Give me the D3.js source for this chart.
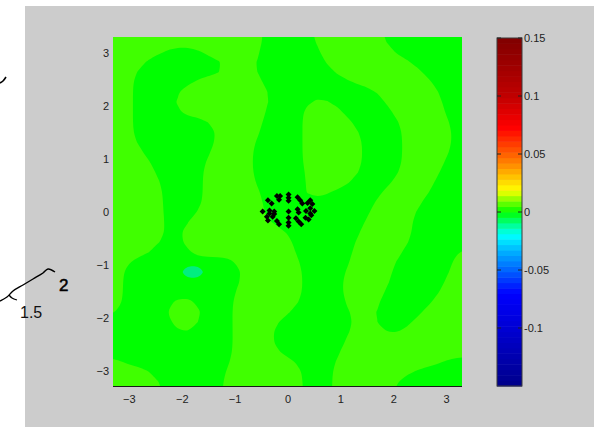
<!DOCTYPE html>
<html><head><meta charset="utf-8">
<script src="https://cdn.jsdelivr.net/npm/d3@7"></script>
<style>html,body{margin:0;padding:0;background:#fff;overflow:hidden}svg{display:block}</style>
</head><body>
<script>
// ---------- data ----------
const xTicks = [-3, -2, -1, 0, 1, 2, 3];
const yTicks = [-3, -2, -1, 0, 1, 2, 3];
const xDomain = [-3.3, 3.3];
const yDomain = [-3.3, 3.3];
const cbTicks = [-0.1, -0.05, 0, 0.05, 0.1, 0.15];
const cbTickLabels = ["-0.1", "-0.05", "0", "0.05", "0.1", "0.15"];
const cbDomain = [-0.15, 0.15];
const cbStopValues = [-0.15, -0.07, -0.05, -0.033, -0.02, -0.013, 0, 0.01, 0.019, 0.028, 0.04, 0.05, 0.073, 0.1, 0.15];
const cbStopColors = ["#00008a", "#0000ff", "#0064ff", "#00b4ff", "#00ffff", "#00ffb0", "#00ff00", "#80ff00", "#ffff00", "#ffd000", "#ff9000", "#ff6000", "#ff0000", "#c00000", "#800000"];
const cbBands = 64;

// field levels ('#' = 0 band, '.' = just above 0, 'o' = just below 0)
const fieldRows = [
"...............#####.......########",
".....####......######.......#######",
"...#########..#######.........#####",
"..##########..########.........####",
"..######.......#########........###",
"..####..........###########......##",
"..####..........###...#####......##",
"..####.........####....#####.....##",
"..########.....####.....#####.....#",
"..#########....####......####.....#",
"..########....#####......####.....#",
"...#######....#####......####.....#",
"....#####.....#####......####....##",
"....#####.....#####......####....##",
".....####.....######....####....###",
".....####......####...#####.....###",
".....####......##...######.....####",
".....####......###########....#####",
".....##........##########.....#####",
".....##...........#######.....#####",
".....##...........######......#####",
"....###...........######.....#####.",
".############......#####....######.",
".######oo####......####.....######.",
".############......####.....#####..",
".###########.......####....######..",
".####....###.......####....#####...",
".####....###......######..#####....",
"######...###....########..####.....",
"######..####....########...##......",
"############....#######............",
"############....#######............",
".###########.......###...........##",
"....#######........###........#####",
".....######........###......#######"
];
const levelCodes = {"#": 0, ".": 1, "o": -1};
const levelColors = {dark: "#00ff00", light: "#40ff00", low: "#00ee80"};

// sensor markers
const markerX = [-0.37,-0.30,-0.20,-0.14,-0.16,0.02,0.02,0.02,0.19,0.24,0.28,0.38,0.43,0.47,-0.47,-0.34,-0.34,-0.25,-0.25,0.02,0.19,0.21,0.35,0.43,0.43,0.51,-0.39,-0.37,-0.28,-0.20,-0.16,0.02,0.02,0.02,0.16,0.21,0.26,0.34,0.40,0.45];
const markerY = [0.22,0.16,0.30,0.30,0.23,0.33,0.27,0.21,0.28,0.22,0.16,0.17,0.22,0.15,0.01,0.03,-0.03,0.01,-0.04,0.01,0.05,-0.01,0.02,0.07,-0.03,0.02,-0.09,-0.16,-0.09,-0.17,-0.23,-0.11,-0.20,-0.26,-0.12,-0.18,-0.23,-0.11,-0.14,-0.06];

// ---------- layout ----------
const W = 594, H = 427;
const plot = {left: 113, top: 37, right: 462, bottom: 387};
const cb = {left: 497, right: 522, top: 38, bottom: 386};
const FONT = "'Liberation Sans', Arial, sans-serif";

const svg = d3.select("body").append("svg").attr("width", W).attr("height", H);
svg.append("rect").attr("x", 0).attr("y", 0).attr("width", W).attr("height", H).attr("fill", "#ffffff");
svg.append("rect").attr("x", 25).attr("y", 6).attr("width", W - 25).attr("height", H - 6).attr("fill", "#cccccc");

// stray annotation strokes at left edge
const strayLine = d3.line().curve(d3.curveCatmullRom);
svg.append("path").attr("d", strayLine([[0,301],[7,297],[13,291],[23,285],[33,279],[43,273],[48,269],[55,272]]))
  .attr("fill", "none").attr("stroke", "#000").attr("stroke-width", 1.4);
svg.append("path").attr("d", strayLine([[9,295],[12,298],[17,300]]))
  .attr("fill", "none").attr("stroke", "#000").attr("stroke-width", 1.3);
svg.append("path").attr("d", strayLine([[0,83],[3,81],[6,77]]))
  .attr("fill", "none").attr("stroke", "#000").attr("stroke-width", 1.6);
svg.append("text").attr("x", 59).attr("y", 291).text("2")
  .attr("font-family", FONT).attr("font-size", 17).attr("fill", "#000")
  .attr("stroke", "#000").attr("stroke-width", 0.5);
svg.append("text").attr("x", 20).attr("y", 318).text("1.5")
  .attr("font-family", FONT).attr("font-size", 16).attr("fill", "#111");

// ---------- scales ----------
const x = d3.scaleLinear().domain(xDomain).range([plot.left, plot.right]);
const y = d3.scaleLinear().domain(yDomain).range([plot.bottom, plot.top]);

// ---------- field ----------
const N = fieldRows.length, M = fieldRows[0].length;
const vals = fieldRows.map(r => Array.from(r).map(ch => levelCodes[ch]));
const PAD = 3;
const PW = M + 2 * PAD, PH = N + 2 * PAD;
function paddedGrid(f) {
  const a = new Float64Array(PW * PH);
  for (let j = 0; j < PH; j++) for (let i = 0; i < PW; i++) {
    const jj = Math.min(N - 1, Math.max(0, j - PAD)), ii = Math.min(M - 1, Math.max(0, i - PAD));
    a[j * PW + i] = f(vals[jj][ii]);
  }
  return a;
}
function smoothGrid(a, r) {
  if (typeof d3.blur2 === "function" && r > 0) d3.blur2({data: a, width: PW, height: PH}, r);
  return a;
}
const gx = d3.scaleLinear().domain([PAD, M + PAD]).range(xDomain);
const gy = d3.scaleLinear().domain([PAD, N + PAD]).range([yDomain[1], yDomain[0]]);

svg.append("defs").append("clipPath").attr("id", "plotclip").append("rect")
  .attr("x", plot.left).attr("y", plot.top).attr("width", plot.right - plot.left).attr("height", plot.bottom - plot.top);

const g = svg.append("g").attr("clip-path", "url(#plotclip)");
g.append("rect").attr("x", plot.left).attr("y", plot.top).attr("width", plot.right - plot.left).attr("height", plot.bottom - plot.top)
  .attr("fill", levelColors.dark);

const ringLine = d3.line().curve(d3.curveCatmullRomClosed.alpha(0.5));
function contourPath(values, t) {
  const c = d3.contours().size([PW, PH]).thresholds([t]).smooth(true)(values)[0];
  let d = "";
  c.coordinates.forEach(poly => poly.forEach(ring => {
    const pts = ring.slice(0, ring.length - 1).map(p => [x(gx(p[0])), y(gy(p[1]))]);
    if (pts.length > 2) d += ringLine(pts);
  }));
  return d;
}
g.append("path").attr("d", contourPath(smoothGrid(paddedGrid(v => v > 0 ? 1 : 0), 0.45), 0.5))
  .attr("fill", levelColors.light).attr("fill-rule", "evenodd");
g.append("path").attr("d", contourPath(paddedGrid(v => v < 0 ? 1 : 0), 0.5))
  .attr("fill", levelColors.low).attr("fill-rule", "evenodd");

// markers
const sym = d3.symbol().type(d3.symbolSquare).size(18);
g.selectAll("path.mk").data(markerX.map((v, i) => [v, markerY[i]])).join("path")
  .attr("class", "mk").attr("d", sym)
  .attr("transform", d => `translate(${x(d[0])},${y(d[1])}) rotate(45)`)
  .attr("fill", "#000");

// bottom axis line
svg.append("line").attr("x1", plot.left).attr("x2", plot.right).attr("y1", plot.bottom - 0.5).attr("y2", plot.bottom - 0.5)
  .attr("stroke", "#1a1a1a").attr("stroke-width", 1.2);

// axes labels
const xAxis = d3.axisBottom(x).tickValues(xTicks).tickSize(0).tickPadding(8).tickFormat(d3.format("d"));
const yAxis = d3.axisLeft(y).tickValues(yTicks).tickSize(0).tickPadding(4).tickFormat(d3.format("d"));
const gxA = svg.append("g").attr("transform", `translate(0,${plot.bottom})`).call(xAxis);
const gyA = svg.append("g").attr("transform", `translate(${plot.left},0)`).call(yAxis);
[gxA, gyA].forEach(a => {
  a.select(".domain").remove();
  a.selectAll("text").attr("font-family", FONT).attr("font-size", 11).attr("fill", "#222");
});

// ---------- colorbar ----------
const cbY = d3.scaleLinear().domain(cbDomain).range([cb.bottom, cb.top]);
const cmap = d3.scaleLinear().domain(cbStopValues).range(cbStopColors).interpolate(d3.interpolateRgb);
const bandStep = (cbDomain[1] - cbDomain[0]) / cbBands;
const bands = d3.range(cbBands).map(i => cbDomain[0] + i * bandStep);
svg.append("g").selectAll("rect").data(bands).join("rect")
  .attr("x", cb.left).attr("width", cb.right - cb.left)
  .attr("y", d => cbY(d + bandStep)).attr("height", d => cbY(d) - cbY(d + bandStep) + 0.5)
  .attr("fill", d => cmap(d + bandStep / 2));
svg.append("rect").attr("x", cb.left).attr("y", cb.top).attr("width", cb.right - cb.left).attr("height", cb.bottom - cb.top)
  .attr("fill", "none").attr("stroke", "#3a3a3a").attr("stroke-width", 1);
const cbt = svg.append("g").selectAll("g").data(cbTicks).join("g");
cbt.append("line").attr("x1", cb.left).attr("x2", cb.left + 4).attr("y1", d => cbY(d)).attr("y2", d => cbY(d))
  .attr("stroke", "#222").attr("stroke-width", 1);
cbt.append("line").attr("x1", cb.right - 4).attr("x2", cb.right).attr("y1", d => cbY(d)).attr("y2", d => cbY(d))
  .attr("stroke", "#222").attr("stroke-width", 1);
cbt.append("text").attr("x", cb.right + 2).attr("y", d => cbY(d)).attr("dy", "0.35em")
  .text((d, i) => cbTickLabels[i])
  .attr("font-family", FONT).attr("font-size", 11).attr("fill", "#222");
</script>
</body></html>
